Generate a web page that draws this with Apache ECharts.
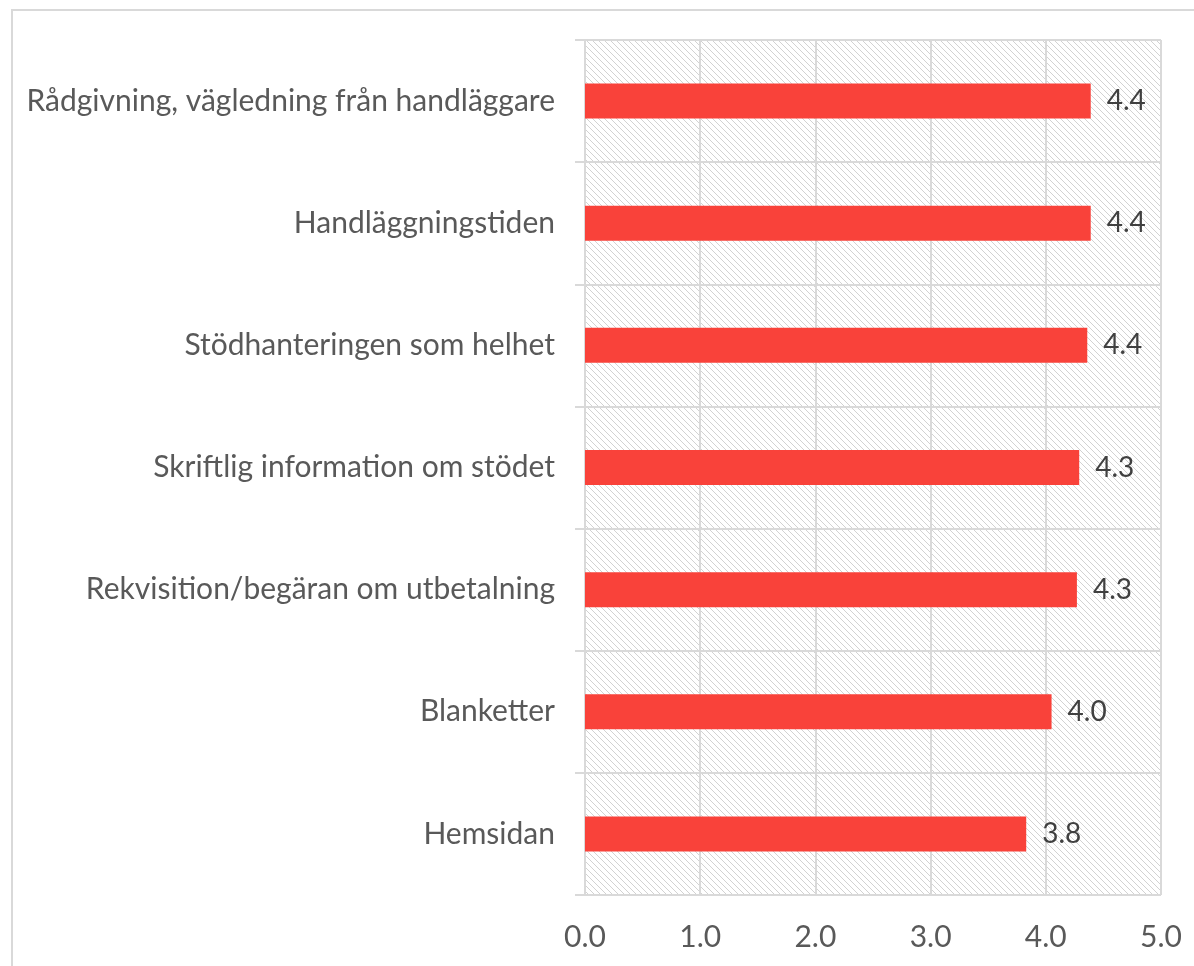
<!DOCTYPE html>
<html>
<head>
<meta charset="utf-8">
<script src="https://cdn.jsdelivr.net/npm/echarts@6/dist/echarts.min.js"></script>
<style>
  html, body { margin: 0; padding: 0; background: #fff; }
  #chart { width: 1194px; height: 966px; }
</style>
</head>
<body>
<div id="chart"></div>
<script>
// categories listed bottom to top (category axis starts at the bottom)
const categories = [
  'Hemsidan',
  'Blanketter',
  'Rekvisition/begäran om utbetalning',
  'Skriftlig information om stödet',
  'Stödhanteringen som helhet',
  'Handläggningstiden',
  'Rådgivning, vägledning från handläggare'
];
const scores = [3.83, 4.05, 4.27, 4.29, 4.36, 4.39, 4.39];
const xTicks = [0, 1, 2, 3, 4, 5];

// hatched plot background
function makeHatch() {
  const c = document.createElement('canvas');
  c.width = 6;
  c.height = 6;
  const ctx = c.getContext('2d');
  ctx.strokeStyle = '#d2d2d2';
  ctx.lineWidth = 1;
  ctx.beginPath();
  ctx.moveTo(-1, -1);
  ctx.lineTo(7, 7);
  ctx.moveTo(-1, 5);
  ctx.lineTo(1, 7);
  ctx.moveTo(5, -1);
  ctx.lineTo(7, 1);
  ctx.stroke();
  return c;
}

const myChart = echarts.init(document.getElementById('chart'));
const option = {
  backgroundColor: '#fff',
  animation: false,
  textStyle: { fontFamily: 'Lato' },
  graphic: [{
    type: 'rect',
    shape: { x: 12, y: 10, width: 1200, height: 1000 },
    style: { fill: null, stroke: '#d9d9d9', lineWidth: 2 },
    z: -1
  }],
  grid: {
    left: 585,
    right: 33,
    top: 40,
    bottom: 71,
    show: true,
    borderWidth: 0,
    backgroundColor: { image: makeHatch(), repeat: 'repeat' }
  },
  xAxis: {
    type: 'value',
    min: xTicks[0],
    max: xTicks[xTicks.length - 1],
    interval: 1,
    axisLine: { show: false },
    axisTick: { show: false },
    axisLabel: {
      color: '#595959',
      fontSize: 30,
      margin: 27,
      formatter: v => v.toFixed(1)
    },
    splitLine: { lineStyle: { color: '#d9d9d9', width: 2 } }
  },
  yAxis: {
    type: 'category',
    data: categories,
    axisLine: { lineStyle: { color: '#d9d9d9', width: 2 } },
    axisTick: { show: true, length: 10, lineStyle: { color: '#d9d9d9', width: 2 } },
    axisLabel: { color: '#595959', fontSize: 30, margin: 30 },
    splitLine: { show: true, lineStyle: { color: '#d9d9d9', width: 2 } }
  },
  series: [{
    type: 'bar',
    data: scores,
    barWidth: 35,
    itemStyle: { color: '#f9423a' },
    label: {
      show: true,
      position: 'right',
      distance: 16,
      color: '#404040',
      fontSize: 28,
      formatter: p => p.value.toFixed(1)
    }
  }]
};
option && myChart.setOption(option);
</script>
</body>
</html>
